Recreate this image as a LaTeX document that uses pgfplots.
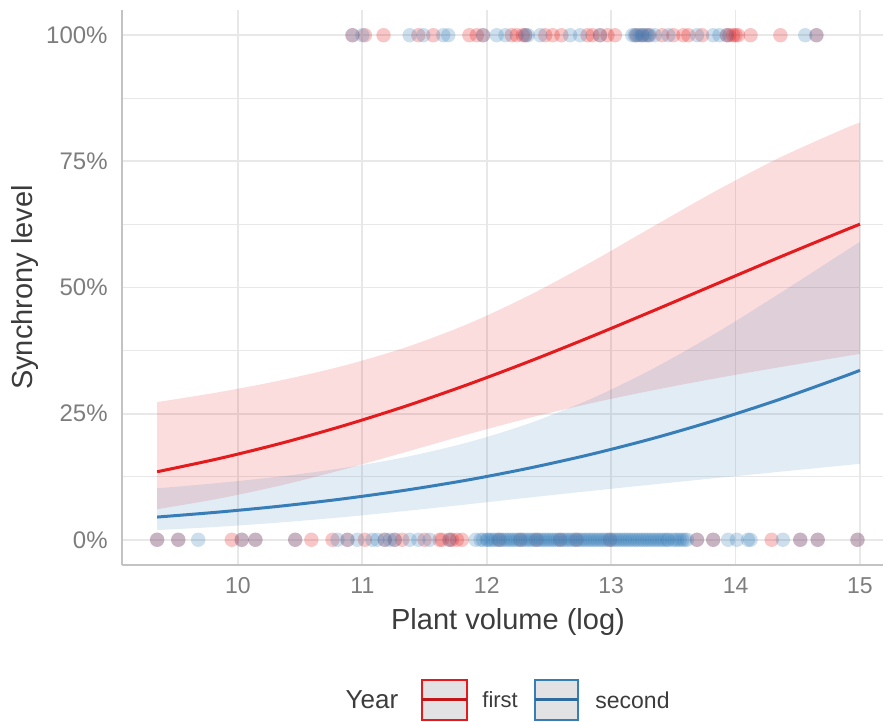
\documentclass[border=0pt]{standalone}
\usepackage{pgfplots}
\pgfplotsset{compat=1.18}
\usepackage{pgfplotstable}
\usepgfplotslibrary{fillbetween}
\usepackage{fontspec}
\setmainfont{Liberation Sans}
\definecolor{setred}{RGB}{228,26,28}
\definecolor{setblue}{RGB}{55,126,184}
\definecolor{gridc}{RGB}{232,232,232}
\definecolor{tickc}{RGB}{125,125,125}
\definecolor{titlec}{RGB}{60,60,60}
\definecolor{axisc}{RGB}{195,195,195}
\definecolor{keyfill}{RGB}{226,226,228}

\pgfplotstableread{
x y lo up
9.35 0.1348 0.0606 0.2729
9.85 0.1611 0.0818 0.2927
10.35 0.1915 0.1081 0.3163
10.85 0.2262 0.1395 0.3450
11.35 0.2650 0.1741 0.3815
11.85 0.3079 0.2092 0.4280
12.35 0.3543 0.2420 0.4855
12.85 0.4037 0.2713 0.5518
13.35 0.4551 0.2971 0.6227
13.85 0.5075 0.3204 0.6925
14.35 0.5597 0.3419 0.7568
14.85 0.6106 0.3624 0.8123
15.00 0.6255 0.3684 0.8270
}\redfit

\pgfplotstableread{
x y lo up
9.35 0.0450 0.0192 0.1020
9.85 0.0550 0.0259 0.1127
10.35 0.0669 0.0345 0.1258
10.85 0.0813 0.0450 0.1423
11.35 0.0984 0.0572 0.1641
11.85 0.1186 0.0704 0.1931
12.35 0.1425 0.0840 0.2314
12.85 0.1701 0.0972 0.2806
13.35 0.2018 0.1100 0.3408
13.85 0.2378 0.1225 0.4107
14.35 0.2779 0.1347 0.4875
14.85 0.3219 0.1469 0.5669
15.00 0.3358 0.1506 0.5905
}\bluefit

\pgfplotstableread{
x y
10.92 1
11.02 1
11.17 1
11.45 1
11.57 1
11.86 1
11.92 1
11.97 1
12.20 1
12.24 1
12.29 1
12.31 1
12.47 1
12.53 1
12.60 1
12.81 1
12.85 1
12.91 1
12.97 1
13.03 1
13.20 1
13.25 1
13.30 1
13.41 1
13.50 1
13.58 1
13.62 1
13.73 1
13.93 1
13.95 1
13.98 1
14.00 1
14.02 1
14.12 1
14.36 1
14.65 1
9.35 0
9.52 0
9.95 0
10.03 0
10.14 0
10.46 0
10.59 0
10.76 0
10.88 0
11.02 0
11.18 0
11.26 0
11.32 0
11.50 0
11.62 0
11.64 0
11.70 0
11.72 0
11.76 0
11.80 0
12.10 0
12.27 0
12.40 0
12.59 0
12.72 0
12.99 0
13.69 0
13.82 0
14.29 0
14.52 0
14.66 0
14.98 0
}\redpts

\pgfplotstableread{
x y
10.92 1
11.00 1
11.38 1
11.49 1
11.65 1
11.69 1
11.97 1
12.08 1
12.15 1
12.31 1
12.33 1
12.43 1
12.67 1
12.75 1
12.91 1
13.17 1
13.19 1
13.21 1
13.23 1
13.25 1
13.27 1
13.29 1
13.31 1
13.35 1
13.46 1
13.69 1
13.82 1
13.87 1
13.93 1
14.56 1
14.65 1
9.35 0
9.52 0
9.68 0
10.03 0
10.14 0
10.46 0
10.80 0
10.88 0
10.96 0
11.08 0
11.12 0
11.18 0
11.22 0
11.26 0
11.38 0
11.45 0
11.54 0
11.70 0
11.91 0
11.95 0
11.97 0
12.00 0
12.01 0
12.03 0
12.05 0
12.07 0
12.09 0
12.11 0
12.13 0
12.15 0
12.17 0
12.19 0
12.21 0
12.23 0
12.25 0
12.27 0
12.29 0
12.31 0
12.33 0
12.35 0
12.37 0
12.39 0
12.41 0
12.43 0
12.45 0
12.47 0
12.49 0
12.51 0
12.53 0
12.55 0
12.57 0
12.59 0
12.61 0
12.63 0
12.65 0
12.67 0
12.69 0
12.71 0
12.73 0
12.75 0
12.77 0
12.79 0
12.81 0
12.83 0
12.85 0
12.87 0
12.89 0
12.91 0
12.93 0
12.95 0
12.97 0
12.99 0
13.01 0
13.03 0
13.05 0
13.07 0
13.09 0
13.11 0
13.13 0
13.15 0
13.17 0
13.19 0
13.21 0
13.23 0
13.25 0
13.27 0
13.29 0
13.31 0
13.33 0
13.35 0
13.37 0
13.39 0
13.41 0
13.43 0
13.45 0
13.46 0
13.49 0
13.51 0
13.53 0
13.55 0
13.57 0
13.59 0
13.61 0
13.69 0
13.82 0
13.94 0
14.01 0
14.10 0
14.12 0
14.38 0
14.52 0
14.66 0
14.98 0
}\bluepts

\begin{document}
\begin{tikzpicture}
\begin{axis}[
  at={(0,0)}, anchor=south west,
  scale only axis, width=380.5pt, height=277.5pt,
  xmin=9.0675, xmax=15.185, ymin=-0.05, ymax=1.05,
  axis x line*=bottom, axis y line*=left,
  axis line style={axisc, line width=0.9pt, -},
  xtick={10,11,12,13,14,15},
  ytick={0,0.25,0.5,0.75,1},
  yticklabels={0\%,25\%,50\%,75\%,100\%},
  minor ytick={0.125,0.375,0.625,0.875},
  grid=both,
  major grid style={gridc, line width=0.9pt},
  minor grid style={gridc, line width=0.5pt},
  major tick length=0pt, minor tick length=0pt,
  /pgf/number format/assume math mode=true,
  xticklabel style={font=\fontsize{11.5}{13}\selectfont, text=tickc, anchor=north, inner sep=0pt, yshift=-6pt},
  yticklabel style={font=\fontsize{12}{14}\selectfont, text=tickc, anchor=east, inner sep=0pt, xshift=-7pt},
  clip=false,
]
% ribbons
\addplot[name path=rup, draw=none, smooth, forget plot] table[x=x,y=up]{\redfit};
\addplot[name path=rlo, draw=none, smooth, forget plot] table[x=x,y=lo]{\redfit};
\addplot[setred, fill opacity=0.15, draw=none] fill between[of=rup and rlo];
\addplot[name path=bup, draw=none, smooth, forget plot] table[x=x,y=up]{\bluefit};
\addplot[name path=blo, draw=none, smooth, forget plot] table[x=x,y=lo]{\bluefit};
\addplot[setblue, fill opacity=0.15, draw=none] fill between[of=bup and blo];
% fitted lines
\addplot[setred, line width=1.5pt, smooth] table[x=x,y=y]{\redfit};
\addplot[setblue, line width=1.5pt, smooth] table[x=x,y=y]{\bluefit};
% observations
\addplot[only marks, mark=*, mark size=3.6pt, draw=none, fill=setred, fill opacity=0.25, mark options={draw opacity=0, fill=setred, fill opacity=0.25}] table[x=x,y=y]{\redpts};
\addplot[only marks, mark=*, mark size=3.6pt, draw=none, fill=setblue, fill opacity=0.25, mark options={draw opacity=0, fill=setblue, fill opacity=0.25}] table[x=x,y=y]{\bluepts};
\end{axis}
% axis titles
\node[rotate=90, font=\fontsize{14.5}{17}\selectfont, text=titlec] at (-48.5pt,138.75pt) {Synchrony level};
\node[font=\fontsize{14.5}{17}\selectfont, text=titlec] at (193pt,-28.5pt) {Plant volume (log)};
% legend
\node[font=\fontsize{13}{15}\selectfont, text=titlec, inner sep=0pt] at (125pt,-67.5pt) {Year};
\draw[setred, line width=0.9pt, fill=keyfill] (150pt,-57.5pt) rectangle (172.5pt,-77.5pt);
\draw[setred!85!black, line width=1.5pt] (150pt,-67.5pt) -- (172.5pt,-67.5pt);
\node[anchor=west, font=\fontsize{11}{13}\selectfont, text=titlec, inner sep=0pt] at (180pt,-67.5pt) {first};
\draw[setblue, line width=0.9pt, fill=keyfill] (206.5pt,-57.5pt) rectangle (228pt,-77.5pt);
\draw[setblue!85!black, line width=1.5pt] (206.5pt,-67.5pt) -- (228pt,-67.5pt);
\node[anchor=west, font=\fontsize{11.5}{13}\selectfont, text=titlec, inner sep=0pt] at (236.5pt,-67.5pt) {second};
\pgfresetboundingbox
\path (-61pt,-78.5pt) rectangle (381.5pt,282.5pt);
\end{tikzpicture}
\end{document}
